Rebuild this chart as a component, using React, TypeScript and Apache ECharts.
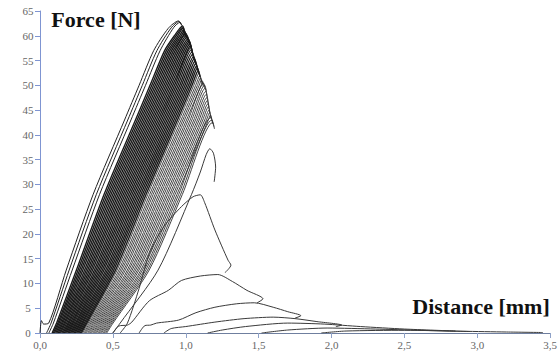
import React, { useEffect, useRef } from "react";
import * as echarts from "echarts";

// Axis ranges
const X_MIN = 0;
const X_MAX = 3.5;
const X_STEP = 0.5;
const Y_MIN = 0;
const Y_MAX = 65;
const Y_STEP = 5;

const X_TITLE = "Distance [mm]";
const Y_TITLE = "Force [N]";

// Leftmost, separate first cycles [distance mm, force N]
const LEFT_CURVES: number[][][] = [
  [[0, 0], [0.01, 2.5], [0.025, 1.8], [0.06, 2], [0.18, 12.7], [0.365, 28], [0.58, 43], [0.68, 50], [0.78, 57], [0.88, 61.5], [0.95, 63], [0.965, 62.4]],
  [[0.045, 0], [0.076, 2], [0.2, 12.7], [0.387, 28], [0.602, 43], [0.702, 50], [0.802, 57], [0.9, 61.6], [0.955, 62.9], [0.97, 62.2]],
  [[0.061, 0], [0.092, 2], [0.221, 12.7], [0.409, 28], [0.624, 43], [0.724, 50], [0.824, 57], [0.918, 61.7], [0.96, 62.7], [0.975, 62]],
];

// Dense core of cycles
const CORE_CURVES: number[][][] = [
  [[0.083, 0], [0.114, 2], [0.25, 12.7], [0.44, 28], [0.655, 43], [0.755, 50], [0.855, 57], [0.922, 60], [0.978, 62], [0.99, 60.7]],
  [[0.091, 0], [0.123, 2], [0.261, 12.7], [0.452, 28], [0.667, 43], [0.767, 50], [0.867, 57], [0.934, 60], [0.981, 61.8], [0.993, 60.5]],
  [[0.099, 0], [0.131, 2], [0.272, 12.7], [0.464, 28], [0.679, 43], [0.779, 50], [0.879, 57], [0.946, 60], [0.979, 61.5], [0.991, 60.2]],
  [[0.108, 0], [0.14, 2], [0.283, 12.7], [0.476, 28], [0.691, 43], [0.791, 50], [0.891, 57], [0.958, 60], [0.985, 61.2], [0.997, 59.9]],
  [[0.116, 0], [0.149, 2], [0.294, 12.7], [0.488, 28], [0.703, 43], [0.803, 50], [0.903, 57], [0.97, 60], [0.991, 61], [1.003, 59.6]],
  [[0.125, 0], [0.157, 2], [0.306, 12.7], [0.5, 28], [0.715, 43], [0.815, 50], [0.915, 57], [0.982, 60], [0.996, 60.7], [1.008, 59.4]],
  [[0.133, 0], [0.166, 2], [0.317, 12.7], [0.512, 28], [0.727, 43], [0.827, 50], [0.927, 57], [1.002, 60.4], [1.014, 59.1]],
  [[0.141, 0], [0.174, 2], [0.328, 12.7], [0.524, 28], [0.739, 43], [0.839, 50], [0.939, 57], [1.007, 60.1], [1.019, 58.8]],
  [[0.15, 0], [0.183, 2], [0.339, 12.7], [0.536, 28], [0.751, 43], [0.851, 50], [0.951, 57], [1.012, 59.8], [1.024, 58.4]],
  [[0.158, 0], [0.192, 2], [0.35, 12.7], [0.548, 28], [0.763, 43], [0.863, 50], [0.963, 57], [1.017, 59.4], [1.029, 58.1]],
  [[0.167, 0], [0.2, 2], [0.361, 12.7], [0.56, 28], [0.775, 43], [0.875, 50], [0.975, 57], [1.022, 59.1], [1.034, 57.8]],
  [[0.175, 0], [0.209, 2], [0.373, 12.7], [0.572, 28], [0.787, 43], [0.887, 50], [0.987, 57], [1.026, 58.8], [1.038, 57.5]],
  [[0.183, 0], [0.218, 2], [0.384, 12.7], [0.584, 28], [0.799, 43], [0.899, 50], [0.999, 57], [1.029, 58.4], [1.041, 57.1]],
  [[0.192, 0], [0.226, 2], [0.395, 12.7], [0.596, 28], [0.811, 43], [0.911, 50], [1.011, 57], [1.033, 58], [1.045, 56.7]],
  [[0.2, 0], [0.235, 2], [0.406, 12.7], [0.608, 28], [0.823, 43], [0.923, 50], [1.036, 57.6], [1.048, 56.3]],
  [[0.209, 0], [0.244, 2], [0.417, 12.7], [0.62, 28], [0.835, 43], [0.935, 50], [1.039, 57.2], [1.051, 55.9]],
  [[0.217, 0], [0.252, 2], [0.428, 12.7], [0.632, 28], [0.847, 43], [0.947, 50], [1.043, 56.7], [1.055, 55.4]],
  [[0.225, 0], [0.261, 2], [0.439, 12.7], [0.644, 28], [0.859, 43], [0.959, 50], [1.049, 56.3], [1.061, 55]],
  [[0.234, 0], [0.27, 2], [0.451, 12.7], [0.656, 28], [0.871, 43], [0.971, 50], [1.054, 55.8], [1.066, 54.5]],
  [[0.242, 0], [0.278, 2], [0.462, 12.7], [0.668, 28], [0.883, 43], [0.983, 50], [1.06, 55.4], [1.072, 54.1]],
  [[0.251, 0], [0.287, 2], [0.473, 12.7], [0.68, 28], [0.895, 43], [0.995, 50], [1.065, 54.9], [1.077, 53.6]],
  [[0.259, 0], [0.295, 2], [0.484, 12.7], [0.692, 28], [0.907, 43], [1.007, 50], [1.07, 54.4], [1.082, 53.1]],
  [[0.267, 0], [0.304, 2], [0.495, 12.7], [0.704, 28], [0.919, 43], [1.019, 50], [1.075, 53.9], [1.087, 52.6]],
  [[0.276, 0], [0.313, 2], [0.506, 12.7], [0.716, 28], [0.931, 43], [1.031, 50], [1.08, 53.5], [1.092, 52.2]],
  [[0.284, 0], [0.321, 2], [0.518, 12.7], [0.728, 28], [0.943, 43], [1.043, 50], [1.086, 53], [1.098, 51.7]],
];

// Outer cycles, hatched towards the right edge
const OUTER_CURVES: number[][][] = [
  [[0.293, 0], [0.33, 2], [0.529, 12.7], [0.74, 28], [0.955, 43], [1.055, 50], [1.091, 52.5], [1.103, 51.2]],
  [[0.302, 0], [0.339, 2], [0.541, 12.7], [0.753, 28], [0.968, 43], [1.068, 50], [1.097, 52], [1.109, 50.7]],
  [[0.31, 0], [0.348, 2], [0.552, 12.7], [0.765, 28], [0.98, 43], [1.08, 50], [1.101, 51.5], [1.113, 50.2]],
  [[0.318, 0], [0.357, 2], [0.563, 12.7], [0.777, 28], [0.992, 43], [1.092, 50], [1.108, 51.1], [1.12, 49.8]],
  [[0.328, 0], [0.366, 2], [0.575, 12.7], [0.79, 28], [1.005, 43], [1.105, 50], [1.116, 50.75], [1.128, 49.5]],
  [[0.336, 0], [0.375, 2], [0.586, 12.7], [0.802, 28], [1.017, 43], [1.123, 50.4], [1.135, 49.1]],
  [[0.345, 0], [0.384, 2], [0.599, 12.7], [0.815, 28], [1.03, 43], [1.13, 50], [1.142, 48.7]],
  [[0.353, 0], [0.393, 2], [0.61, 12.7], [0.827, 28], [1.042, 43], [1.133, 49.4], [1.145, 48.1]],
  [[0.363, 0], [0.402, 2], [0.622, 12.7], [0.84, 28], [1.055, 43], [1.137, 48.75], [1.149, 47.5]],
  [[0.371, 0], [0.411, 2], [0.633, 12.7], [0.852, 28], [1.067, 43], [1.141, 48.15], [1.153, 46.9]],
  [[0.38, 0], [0.42, 2], [0.645, 12.7], [0.865, 28], [1.08, 43], [1.144, 47.5], [1.156, 46.2]],
  [[0.388, 0], [0.429, 2], [0.656, 12.7], [0.877, 28], [1.092, 43], [1.148, 46.9], [1.16, 45.6]],
  [[0.398, 0], [0.438, 2], [0.668, 12.7], [0.89, 28], [1.105, 43], [1.151, 46.25], [1.163, 45]],
  [[0.406, 0], [0.447, 2], [0.679, 12.7], [0.902, 28], [1.117, 43], [1.155, 45.65], [1.167, 44.4]],
  [[0.415, 0], [0.456, 2], [0.692, 12.7], [0.915, 28], [1.13, 43], [1.159, 45], [1.171, 43.7]],
  [[0.423, 0], [0.465, 2], [0.703, 12.7], [0.927, 28], [1.142, 43], [1.164, 44.5], [1.176, 43.2]],
  [[0.433, 0], [0.474, 2], [0.715, 12.7], [0.94, 28], [1.155, 43], [1.169, 44], [1.181, 42.7]],
  [[0.441, 0], [0.483, 2], [0.726, 12.7], [0.952, 28], [1.174, 43.5], [1.186, 42.2]],
  [[0.45, 0], [0.492, 2], [0.738, 12.7], [0.965, 28], [1.18, 43], [1.192, 41.7]],
  [[0.458, 0], [0.501, 2], [0.749, 12.7], [0.977, 28], [1.185, 42.5], [1.197, 41.2]],
];

// Late, separate cycles after failure
const LATE_CURVES: number[][][] = [
  [[0.5, 0], [0.55, 2], [0.81, 12.7], [1.04, 28], [1.1, 32.5], [1.14, 36], [1.165, 37.2], [1.19, 36.3], [1.205, 33.5], [1.195, 30.5]],
  [[0.55, 0], [0.6, 2], [0.68, 9], [0.75, 16], [0.85, 21.5], [0.97, 25.5], [1.05, 27.5], [1.1, 27.9], [1.13, 26.3], [1.2, 20.8], [1.29, 14.7], [1.31, 13.7], [1.27, 12.2]],
  [[0.5, 0], [0.54, 1.4], [0.6, 1.6], [0.63, 2.2], [0.75, 6.5], [0.88, 8.6], [0.97, 10.6], [1.1, 11.5], [1.22, 11.8], [1.32, 10.4], [1.42, 8.6], [1.53, 6.9], [1.49, 6.1]],
  [[0.68, 0], [0.72, 1.5], [0.76, 1.6], [0.8, 2], [0.95, 2.6], [1.07, 4.1], [1.2, 5.2], [1.35, 5.9], [1.47, 6.1], [1.6, 5.2], [1.7, 4.3], [1.79, 3.5], [1.75, 3.0]],
  [[0.85, 0], [0.9, 0.9], [1.0, 1.3], [1.2, 2.2], [1.4, 2.9], [1.6, 3.2], [1.75, 2.9], [1.9, 2.3], [2.07, 1.6], [2.03, 1.3]],
  [[1.15, 0], [1.25, 0.6], [1.41, 1.3], [1.7, 2.0], [1.95, 1.8], [2.2, 1.3], [2.5, 0.8], [2.85, 0.4]],
  [[1.52, 0], [1.7, 0.6], [1.97, 1.0], [2.3, 0.8], [2.6, 0.55], [2.95, 0.3]],
  [[1.93, 0], [2.1, 0.4], [2.5, 0.55], [2.9, 0.35], [3.2, 0.2], [3.45, 0.1]],
];

const SERIF = "'Liberation Serif', 'Times New Roman', serif";

export default function App() {
  const ref = useRef<HTMLDivElement>(null);

  useEffect(() => {
    if (!ref.current) return;
    const chart = echarts.init(ref.current, null, { renderer: "svg" });

    const mk = (data: number[][], color: string, width: number) => ({
      type: "line",
      data,
      symbol: "none",
      showSymbol: false,
      smooth: 0.25,
      silent: true,
      lineStyle: { color, width },
    });

    const series: any[] = [];
    OUTER_CURVES.forEach((c) => series.push(mk(c, "#2e2e2e", 0.9)));
    CORE_CURVES.forEach((c) => series.push(mk(c, "#1a1a1a", 1.4)));
    LEFT_CURVES.forEach((c) => series.push(mk(c, "#222", 1)));
    LATE_CURVES.forEach((c) => series.push(mk(c, "#3a3a3a", 1)));

    chart.setOption({
      animation: false,
      backgroundColor: "#fff",
      grid: { left: 40, right: 5, top: 11, bottom: 23, containLabel: false },
      xAxis: {
        type: "value",
        min: X_MIN,
        max: X_MAX,
        interval: X_STEP,
        axisLine: { show: true, onZero: false, lineStyle: { color: "#6f7f9f", width: 1 } },
        axisTick: { show: true, length: 5, lineStyle: { color: "#8fa2c8" } },
        axisLabel: {
          color: "#666",
          fontFamily: SERIF,
          fontSize: 11,
          margin: 6,
          align: "center",
          formatter: (v: number) => v.toFixed(1).replace(".", ","),
        },
        splitLine: { show: false },
      },
      yAxis: {
        type: "value",
        min: Y_MIN,
        max: Y_MAX,
        interval: Y_STEP,
        axisLine: { show: true, lineStyle: { color: "#7f95d2", width: 1 } },
        axisTick: { show: true, length: 5, lineStyle: { color: "#7f95d2" } },
        axisLabel: { color: "#666", fontFamily: SERIF, fontSize: 11, margin: 12, align: "center" },
        splitLine: { show: false },
      },
      graphic: [
        {
          type: "text",
          x: 96,
          y: 8,
          style: {
            text: Y_TITLE,
            fontFamily: SERIF,
            fontWeight: "bold",
            fontSize: 22,
            fill: "#111",
            align: "center",
            verticalAlign: "top",
          },
        },
        {
          type: "text",
          x: 481,
          y: 295,
          style: {
            text: X_TITLE,
            fontFamily: SERIF,
            fontWeight: "bold",
            fontSize: 22,
            fill: "#111",
            align: "center",
            verticalAlign: "top",
          },
        },
      ],
      series,
    });

    return () => chart.dispose();
  }, []);

  return (
    <div
      ref={ref}
      style={{ position: "fixed", left: 0, top: 0, width: 560, height: 356 }}
    />
  );
}
